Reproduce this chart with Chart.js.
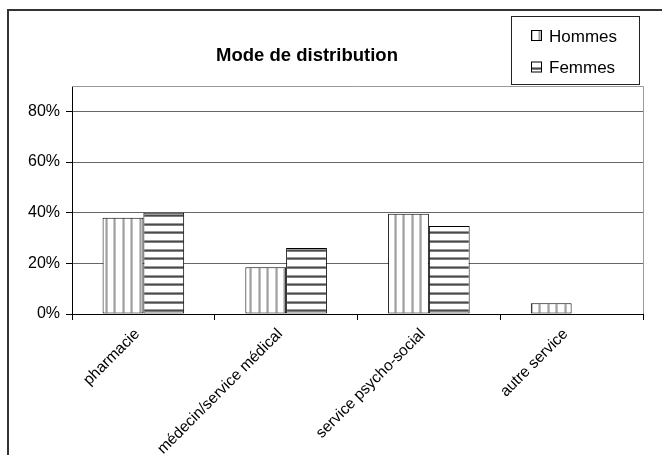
<!DOCTYPE html>
<html>
<head>
<meta charset="utf-8">
<style>
  html, body { margin: 0; padding: 0; background: #fff; }
  #wrap { width: 662px; height: 455px; }
</style>
<script src="https://cdn.jsdelivr.net/npm/chart.js@4.4.1/dist/chart.umd.min.js"></script>
</head>
<body>
<div id="wrap"><canvas id="c" width="662" height="455"></canvas></div>
<script>
// Répartition par mode de distribution (en %)
const categories = ['pharmacie', 'médecin/service médical', 'service psycho-social', 'autre service'];
const seriesNames = ['Hommes', 'Femmes'];
const hommes = [38.0, 18.5, 39.6, 4.2];
const femmes = [40.0, 26.1, 34.7, 0];
const yStep = 20;
const yMax = 90;
const chartTitle = 'Mode de distribution';

const FONT = '"Liberation Sans", Arial, Helvetica, sans-serif';

// Hatch fills: vertical stripes for Hommes, horizontal stripes for Femmes
function verticalStripes() {
  const t = document.createElement('canvas');
  t.width = 17; t.height = 4;
  const g = t.getContext('2d');
  g.fillStyle = '#fff'; g.fillRect(0, 0, 17, 4);
  [[3, '#c8c8c8'], [4, '#a0a0a0'], [5, '#c0c0c0'], [11, '#c8c8c8'], [12, '#a0a0a0'], [13, '#c0c0c0']]
    .forEach(([x, c]) => { g.fillStyle = c; g.fillRect(x, 0, 1, 4); });
  return g.createPattern(t, 'repeat');
}
function horizontalStripes() {
  const t = document.createElement('canvas');
  t.width = 4; t.height = 26;
  const g = t.getContext('2d');
  g.fillStyle = '#fff'; g.fillRect(0, 0, 4, 26);
  [0, 9, 17].forEach(y => {
    g.fillStyle = '#999'; g.fillRect(0, y + 6, 4, 1);
    g.fillStyle = '#4a4a4a'; g.fillRect(0, y + 7, 4, 1);
    g.fillStyle = '#808080'; g.fillRect(0, y + 8, 4, 1);
  });
  return g.createPattern(t, 'repeat');
}

const fills = [verticalStripes(), horizontalStripes()];

// Outer frame, plot border, title and legend box
const decorations = {
  id: 'decorations',
  beforeDraw(chart) {
    const ctx = chart.ctx;
    ctx.save();
    ctx.fillStyle = '#fff';
    ctx.fillRect(0, 0, chart.width, chart.height);
    ctx.strokeStyle = '#333';
    ctx.lineWidth = 2;
    ctx.beginPath();
    ctx.moveTo(8, chart.height);
    ctx.lineTo(8, 10);
    ctx.lineTo(chart.width, 10);
    ctx.stroke();
    ctx.restore();
  },
  beforeDatasetsDraw(chart) {
    const { ctx, chartArea: a } = chart;
    ctx.save();
    ctx.strokeStyle = '#9a9a9a';
    ctx.lineWidth = 1;
    ctx.beginPath();
    ctx.moveTo(a.left, a.top + 0.5);
    ctx.lineTo(a.right + 0.5, a.top + 0.5);
    ctx.lineTo(a.right + 0.5, a.bottom);
    ctx.stroke();
    ctx.restore();
  },
  afterDraw(chart) {
    const ctx = chart.ctx;
    ctx.save();
    // title
    ctx.fillStyle = '#000';
    ctx.font = 'bold 18.5px ' + FONT;
    ctx.textAlign = 'center';
    ctx.textBaseline = 'middle';
    ctx.fillText(chartTitle, 307, 56);
    // legend
    ctx.fillStyle = '#fff';
    ctx.fillRect(511.5, 16.5, 128, 68);
    ctx.strokeStyle = '#222';
    ctx.lineWidth = 1;
    ctx.strokeRect(511.5, 16.5, 128, 68);
    const rows = [36, 67.5];
    chart.data.datasets.forEach((ds, i) => {
      const y = rows[i];
      ctx.fillStyle = ds.backgroundColor;
      ctx.fillRect(532, y - 5, 10, 10);
      ctx.strokeStyle = '#000';
      ctx.strokeRect(531.5, y - 5.5, 10, 10);
      ctx.fillStyle = '#000';
      ctx.font = '17px ' + FONT;
      ctx.textAlign = 'left';
      ctx.textBaseline = 'middle';
      ctx.fillText(ds.label, 549, y + 1);
    });
    ctx.restore();
  }
};

new Chart(document.getElementById('c'), {
  type: 'bar',
  data: {
    labels: categories,
    datasets: [
      { label: seriesNames[0], data: hommes, backgroundColor: fills[0] },
      { label: seriesNames[1], data: femmes, backgroundColor: fills[1] }
    ]
  },
  options: {
    responsive: false,
    animation: false,
    devicePixelRatio: 1,
    layout: { padding: { top: 86, right: 19, left: 0, bottom: 0 } },
    datasets: {
      bar: {
        borderColor: '#000',
        borderWidth: 1,
        borderSkipped: false,
        categoryPercentage: 0.5714,
        barPercentage: 1.0
      }
    },
    plugins: {
      legend: { display: false },
      title: { display: false },
      tooltip: { enabled: false }
    },
    scales: {
      x: {
        afterFit(s) { s.height = 141; },
        grid: {
          offset: true,
          drawOnChartArea: false,
          tickLength: 6,
          tickColor: '#000'
        },
        border: { color: '#000', width: 1 },
        ticks: {
          autoSkip: false,
          maxRotation: 45,
          minRotation: 45,
          padding: 5,
          labelOffset: -6,
          color: '#000',
          font: { family: FONT, size: 15.5 }
        }
      },
      y: {
        min: 0,
        max: yMax,
        afterFit(s) { s.width = 72; },
        grid: {
          color: '#666',
          lineWidth: 1,
          tickLength: 6,
          tickColor: '#000'
        },
        border: { color: '#000', width: 1 },
        ticks: {
          stepSize: yStep,
          includeBounds: false,
          padding: 6,
          color: '#000',
          font: { family: FONT, size: 16 },
          callback: v => v + '%'
        }
      }
    }
  },
  plugins: [decorations]
});
</script>
</body>
</html>
